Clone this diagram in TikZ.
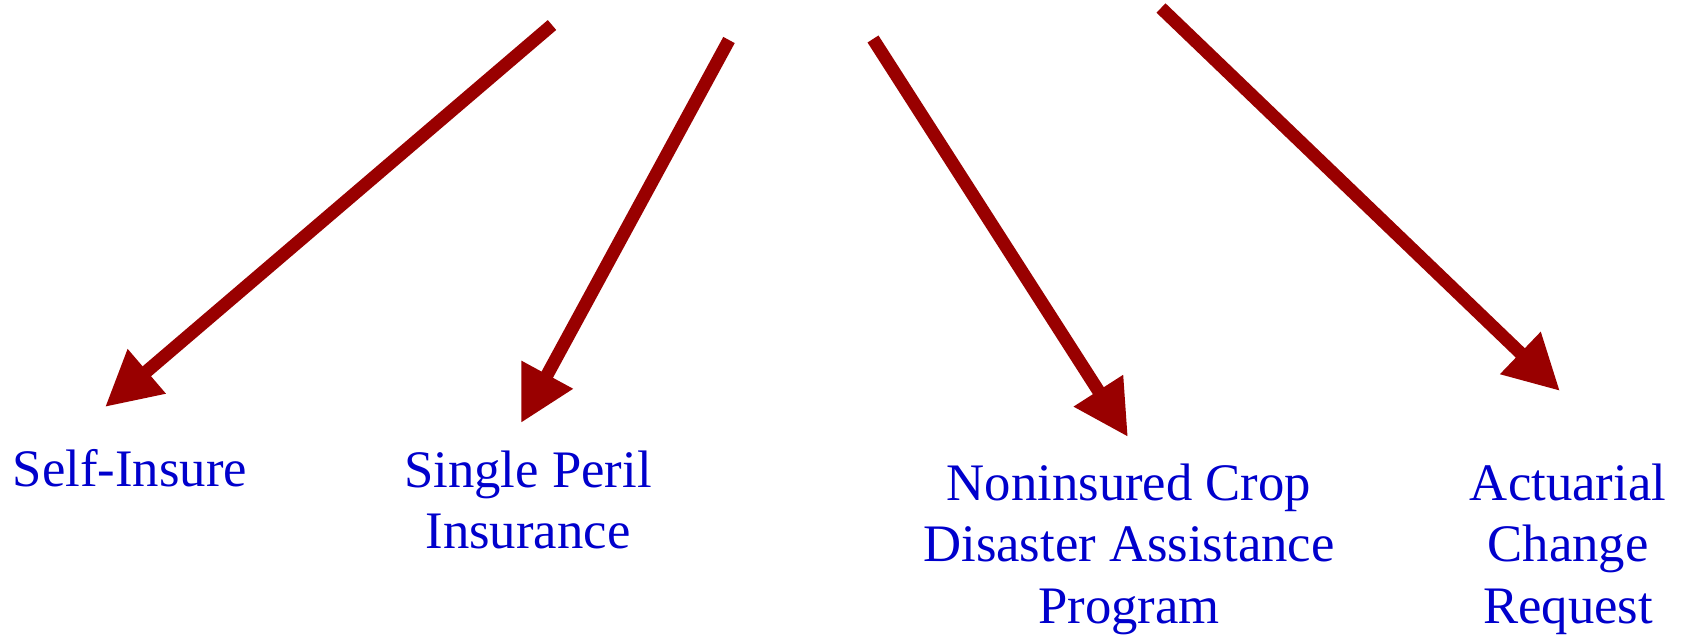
\documentclass[tikz,border=0pt]{standalone}
\usepackage{fontspec}
\setmainfont{Liberation Serif}
\usetikzlibrary{arrows.meta}
\definecolor{arrowred}{HTML}{990000}
\definecolor{labelblue}{HTML}{0000CC}

\begin{document}
\begin{tikzpicture}[
  x=0.02cm,y=-0.02cm,
  choice/.style={text=labelblue,align=center,font=\fontsize{30}{35}\selectfont},
  pick/.style={arrowred,line width=0.26cm,-{Triangle[length=1.1cm,width=1.1cm]}}
]
  \useasboundingbox (0,0) rectangle (1681,640);

  \node[choice] (selfins) at (130,468) {Self-Insure};
  \node[choice] (peril) at (528,500) {Single Peril\\Insurance};
  \node[choice] (nap) at (1129,549) {Noninsured Crop\\Disaster Assistance\\Program};
  \node[choice] (acr) at (1568,549) {Actuarial\\Change\\Request};

  \coordinate (s1) at (552,25);  \coordinate (t1) at (105,407);
  \coordinate (s2) at (729,40);  \coordinate (t2) at (521,423);
  \coordinate (s3) at (873,39);  \coordinate (t3) at (1128,437);
  \coordinate (s4) at (1161,8);  \coordinate (t4) at (1560,391);

  \draw[pick] (s1) -- (t1);
  \draw[pick] (s2) -- (t2);
  \draw[pick] (s3) -- (t3);
  \draw[pick] (s4) -- (t4);
\end{tikzpicture}
\end{document}
